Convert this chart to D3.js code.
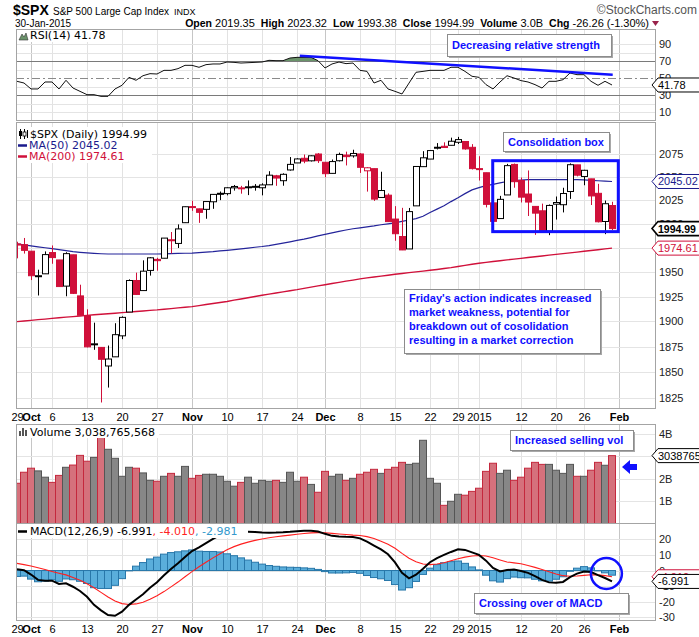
<!DOCTYPE html>
<html>
<head>
<meta charset="utf-8">
<script src="https://cdn.jsdelivr.net/npm/d3@7"></script>
<style>
body{margin:0;background:#fff;}
svg{display:block;font-family:"Liberation Sans",Arial,sans-serif;}
</style>
</head>
<body>
<div id="chart"></div>
<script>
// $SPX daily, 29-Sep-2014 .. 30-Jan-2015 (86 sessions)
const prevClose = 1982.85;
const opens = [1978.96,1978.21,1971.44,1945.83,1948.12,1970.01,1962.36,1935.55,1967.68,1925.63,
1905.65,1877.11,1874.18,1855.95,1864.91,1885.62,1909.38,1941.29,1931.02,1951.59,
1962.97,1964.14,1983.29,1979.49,2001.20,2018.21,2015.81,2015.29,2023.33,2032.36,
2032.01,2038.20,2037.75,2039.21,2039.74,2038.29,2041.48,2051.16,2045.87,2057.46,
2065.07,2070.15,2067.36,2074.78,2065.78,2053.77,2067.45,2073.64,2072.78,2074.84,
2056.55,2058.86,2027.92,2030.36,2005.03,1986.71,1973.77,2018.98,2061.04,2069.28,
2081.48,2083.25,2084.30,2087.63,2088.49,2082.11,2058.90,2054.44,2022.15,2005.55,
2030.61,2063.45,2046.13,2031.58,2018.40,2013.75,1992.25,2020.76,2020.19,2034.30,
2062.98,2050.42,2047.86,2032.34,2002.45,2019.35];
const highs = [1981.28,1985.17,1971.44,1952.32,1971.19,1977.37,1962.36,1970.36,1967.68,1936.98,
1912.09,1898.71,1874.18,1876.01,1898.16,1905.03,1942.45,1949.31,1961.95,1965.27,
1964.64,1985.05,1991.40,1999.40,2018.19,2024.46,2015.98,2023.77,2031.61,2034.26,
2038.70,2041.28,2040.33,2046.18,2042.22,2043.07,2056.08,2052.14,2053.84,2071.46,
2070.17,2074.21,2073.29,2075.76,2065.78,2068.77,2076.28,2077.34,2079.47,2075.78,
2060.60,2058.86,2055.53,2032.25,2018.69,2016.89,2016.75,2061.23,2077.85,2078.76,
2086.73,2087.56,2092.70,2093.55,2088.49,2085.58,2072.36,2054.44,2030.25,2029.61,
2064.08,2064.43,2049.30,2056.93,2018.40,2021.35,2020.46,2028.94,2038.29,2064.62,
2062.98,2057.62,2047.86,2042.49,2024.64,2023.32];
const lows = [1964.04,1968.96,1941.72,1926.03,1948.12,1958.43,1935.10,1925.25,1927.56,1906.05,
1874.14,1871.79,1820.66,1835.02,1864.91,1882.30,1909.38,1926.83,1931.02,1946.27,
1951.37,1964.14,1969.04,1974.75,2001.20,2013.68,2001.01,2005.36,2015.86,2025.07,
2030.17,2035.28,2031.95,2030.44,2035.20,2030.17,2041.48,2040.37,2040.49,2056.75,
2065.07,2064.75,2066.62,2065.06,2049.57,2053.77,2066.65,2062.34,2070.81,2054.27,
2034.17,2024.26,2027.92,2002.33,1982.26,1972.56,1973.77,2018.98,2061.04,2069.28,
2079.77,2081.86,2084.30,2085.75,2079.53,2057.94,2046.04,2017.34,1992.44,2005.55,
2030.61,2038.33,2022.58,2008.25,1988.44,1991.47,1988.12,2004.49,2012.04,2026.38,
2050.54,2040.97,2019.91,2001.49,1989.18,1993.38];
const closes = [1977.80,1972.29,1946.16,1946.17,1967.90,1964.82,1935.10,1968.89,1928.21,1906.13,
1874.74,1877.70,1862.49,1862.76,1886.76,1904.01,1941.28,1927.11,1950.82,1964.58,
1961.63,1985.05,1982.30,1994.65,2018.05,2017.81,2012.10,2023.57,2031.21,2031.92,
2038.26,2039.68,2038.25,2039.33,2039.82,2041.32,2051.80,2048.72,2052.75,2063.50,
2069.41,2067.03,2072.83,2067.56,2053.44,2066.55,2074.33,2071.92,2075.37,2060.31,
2059.82,2026.14,2035.33,2002.33,1989.63,1972.74,2012.89,2061.23,2070.65,2078.54,
2082.17,2081.88,2088.77,2090.57,2080.35,2058.90,2058.20,2020.58,2002.61,2025.90,
2062.14,2044.81,2028.26,2023.03,2011.27,1992.67,2019.42,2022.55,2032.12,2063.15,
2051.82,2057.09,2029.55,2002.16,2021.25,1994.99];
// volume in billions of shares
const volume = [1.81,2.30,2.48,2.36,2.08,1.85,2.16,2.52,2.62,3.05,
2.79,2.96,3.88,3.32,2.92,2.12,2.52,2.48,2.27,1.94,
1.90,2.12,2.25,2.12,2.56,2.03,2.16,2.21,2.21,2.12,
1.90,1.68,1.85,2.08,1.81,1.94,1.90,1.94,1.85,2.30,
1.90,2.08,1.76,1.41,2.34,2.12,2.21,1.94,2.03,2.21,
2.30,2.43,2.25,2.43,2.52,2.74,2.65,2.70,3.72,2.03,
1.81,0.83,1.01,1.32,1.28,1.45,1.59,2.34,2.70,2.25,
2.39,1.94,2.08,2.48,2.74,2.65,2.65,2.39,2.25,2.65,
2.12,2.12,2.39,2.74,2.61,3.0388];
const ma50 = [1979,1978,1977,1976,1975,1974,1973,1972,1971,1970.3,
1969.7,1969.2,1968.8,1968.5,1968.5,1968.5,1968.5,1968.5,1968.5,1968.5,
1968.5,1968.7,1968.9,1969.1,1969.3,1969.5,1970,1970.5,1971,1971.7,
1972.3,1973,1973.8,1974.6,1975.5,1976.3,1977.3,1978.5,1979.8,1981.2,
1982.6,1984,1985.6,1987.3,1989,1990.5,1992,1993.5,1994.8,1995.8,
1996.8,1997.8,1999,2000,2001,2002.5,2004,2005.5,2008,2012,
2015.5,2019,2023.5,2027.5,2032,2036,2038.5,2040.5,2042,2043.5,
2045,2046,2046.5,2047,2047,2047,2047,2047,2047,2047,
2047,2046.8,2046.3,2045.8,2045.4,2045.02];
const ma200 = [1899.8,1900.4,1901,1901.7,1902.3,1903,1903.6,1904.2,1904.8,1905.4,
1906,1906.6,1907.1,1907.7,1908.2,1908.8,1909.3,1909.9,1910.4,1911,
1911.5,1912.2,1912.8,1913.5,1914.1,1914.8,1915.8,1916.9,1917.9,1919,
1920,1921.3,1922.5,1923.8,1925,1926.3,1927.4,1928.6,1929.7,1930.9,
1932,1933.3,1934.5,1935.8,1937,1938.2,1939.4,1940.6,1941.7,1942.9,
1944,1944.9,1945.8,1946.7,1947.6,1948.5,1949.3,1950.1,1950.9,1951.7,
1952.6,1953.6,1954.5,1955.6,1956.8,1957.9,1959,1959.9,1960.7,1961.6,
1962.4,1963.2,1964,1964.9,1965.7,1966.5,1967.3,1968.1,1968.9,1969.7,
1970.5,1971.3,1972.1,1972.9,1973.8,1974.61];
const rsi = [46.1,44.1,37.1,37.1,45.3,45.3,37.1,47.3,38.2,34.3,
30.4,30.4,28.4,28.4,37.1,41.4,50.8,47.3,52.7,55.1,
54.7,59,59,61,64.9,64.9,62.6,65.7,66.5,66.5,
68.8,68.4,67.6,68,68.4,68.8,70.8,70.4,70.4,73.5,
74.3,74.3,74.3,70.4,61.8,66.5,68.8,66.9,67.6,59,
57.8,44.1,47.3,37.1,34.3,31.2,44,56.7,57.8,59,
59,59,62.6,62.6,57.8,52,50.8,42.2,37.1,45.3,
52.7,50,46.9,45.3,42.2,38.2,46.1,46.1,48,55.9,
53.9,53.9,46.1,41.4,46.1,41.78];
const macd = [0.8,0.2,-2.6,-6,-6.5,-6.5,-8.6,-8.2,-10.4,-13.1,
-16.8,-22,-25.5,-28.5,-29,-26.4,-22,-18.6,-15.2,-11,
-7.5,-3,1,4.6,8.6,12.5,14.8,17.5,20.3,22.7,
24,24.8,25,24.9,24.6,24.3,24.2,24.3,24.5,24.8,
25.2,25.4,25.5,25,23.5,22.2,21.8,21.6,21.5,20.6,
18.5,16,13.5,10.4,5.2,-1.5,-5,-2.7,1.2,5.3,
8,10,11.9,13.6,13.2,11.6,10,6.3,1.6,-0.6,
0.3,0.7,-0.3,-1.5,-3.6,-6,-7.6,-7.8,-7.3,-4.2,
-2,-0.6,-1,-3,-4.8,-6.991];
const signal = [4.6,3.8,2.9,1.8,0.6,-0.6,-1.7,-2.8,-4.5,-6.2,
-8.5,-11,-14,-17,-19.5,-21.2,-21.8,-21.4,-20.3,-18.4,
-16.1,-13.5,-10.5,-7.4,-4,-0.7,2.4,5.3,8.1,10.8,
13.3,15.3,16.9,18.2,19.3,20.2,21,21.6,22.2,22.7,
23.2,23.7,24.1,24.3,24.2,23.8,23.4,23.1,22.7,22.4,
21.7,20.5,18.8,16.8,14.3,11,7.9,5.6,4.2,3.8,
4.2,5,6.2,7.5,8.6,9.3,9.6,9.3,8.2,6.8,
5.5,4.9,4.3,3.2,2,0.6,-0.8,-2.2,-3.3,-3.7,
-3.5,-3.1,-2.7,-2.8,-3.3,-4.01];
const hist = [-3.8,-3.6,-5.5,-7.2,-6.8,-5.9,-6.9,-5.4,-5.9,-6.9,
-8.3,-11,-11.5,-11.5,-9.5,-5.2,-0.2,2.8,5.1,7.4,
8.6,10.5,11.5,12,12.6,13.2,12.4,12.2,12.2,11.9,
10.7,9.5,8.1,6.7,5.3,4.1,3.2,2.7,2.3,2.1,
2,1.7,1.4,0.7,-0.7,-1.6,-1.6,-1.5,-1.2,-1.8,
-3.2,-4.5,-5.3,-6.4,-9,-12.5,-11,-7,-2.5,1.5,
3.8,5,5.7,6.1,4.6,2.3,0.4,-3,-6.6,-7.4,
-5.2,-4.2,-4.6,-4.7,-5.6,-6.6,-6.8,-5.6,-4,-0.5,
1.5,2.5,1.7,-0.2,-1.5,-2.981];

// date axis
const tickIdx = [0,2,5,10,15,20,25,30,35,40,44,49,54,59,63,66,72,77,81,86];
const tickLbl = ["29","Oct","6","13","20","27","Nov","10","17","24","Dec","8","15","22","29","2015","12","20","26","Feb"];
const priceTicks = [1825,1850,1875,1900,1925,1950,1975,2000,2025,2050,2075];
const rsiTicks = [90,70,50,30,10];
const rsiGrid = [10,20,40,60,80,90];
const volTicks = [1,2,3,4];
const macdTicks = [20,10,0,-10,-20,-30];

const W = 699, H = 637;
const L = 16, R = 655;
const RED = "#d0103a", BLUE = "#1010ff";

var svg = d3.select("#chart").append("svg")
    .attr("width", W)
    .attr("height", H);

var x = d3.scaleLinear().domain([0, 85]).range([17, 612]);
var yP = d3.scaleLog().domain([1815.4, 2110]).range([408, 122]);
var yR = d3.scaleLinear().domain([0, 100]).range([120.5, 35.5]);
var yV = d3.scaleLinear().domain([0, 4.444]).range([524, 424]);
var yM = d3.scaleLinear().domain([-31.7, 29.8]).range([620, 524]);

var panels = {
    rsi: [29, 120],
    price: [122, 408],
    vol: [424, 523],
    macd: [523, 620]
};

var defs = svg.append("defs");
Object.keys(panels).forEach(function(k){
    defs.append("clipPath").attr("id", "clip-" + k)
        .append("rect").attr("x", L).attr("y", panels[k][0])
        .attr("width", R - L).attr("height", panels[k][1] - panels[k][0]);
});
defs.append("clipPath").attr("id", "clip-ob")
    .append("rect").attr("x", L).attr("y", 29).attr("width", R - L).attr("height", yR(70) - 29);

// gridlines
function vgrid(top, bottom){
    tickIdx.forEach(function(t, k){
        if (t === 0) return;
        var month = isNaN(+tickLbl[k]);
        svg.append("line")
            .attr("x1", Math.round(x(t)) + 0.5).attr("x2", Math.round(x(t)) + 0.5)
            .attr("y1", top).attr("y2", bottom)
            .attr("stroke", month ? "#c6c6c6" : "#e2e2e2");
    });
}
function hgrid(vals, scale){
    vals.forEach(function(v){
        var yy = Math.round(scale(v)) + 0.5;
        svg.append("line").attr("x1", L).attr("x2", R).attr("y1", yy).attr("y2", yy)
            .attr("stroke", "#e4e4e4");
    });
}
Object.keys(panels).forEach(function(k){ vgrid(panels[k][0], panels[k][1]); });
hgrid(rsiGrid, yR);
hgrid(priceTicks, yP);
hgrid(volTicks, yV);
hgrid(macdTicks, yM);

// ---- RSI panel
var gR = svg.append("g").attr("clip-path", "url(#clip-rsi)");
[70, 30].forEach(function(v){
    gR.append("line").attr("x1", L).attr("x2", R)
        .attr("y1", Math.round(yR(v)) + 0.5).attr("y2", Math.round(yR(v)) + 0.5)
        .attr("stroke", "#7a7a7a");
});
gR.append("line").attr("x1", L).attr("x2", R)
    .attr("y1", Math.round(yR(50)) + 0.5).attr("y2", Math.round(yR(50)) + 0.5)
    .attr("stroke", "#8a8a8a").attr("stroke-dasharray", "8,3,2,3");
gR.append("path").datum(rsi)
    .attr("clip-path", "url(#clip-ob)")
    .attr("d", d3.area().x(function(d, i){ return x(i); }).y0(yR(70)).y1(function(d){ return yR(d); }))
    .attr("fill", "#6a936a");
gR.append("path").datum(rsi)
    .attr("d", d3.line().x(function(d, i){ return x(i); }).y(function(d){ return yR(d); }))
    .attr("fill", "none").attr("stroke", "#111").attr("stroke-width", 1);
// falling RSI trendline
const rsiTrend = [[40.4, 76.2], [85.1, 53.9]];
gR.append("line")
    .attr("x1", x(rsiTrend[0][0])).attr("y1", yR(rsiTrend[0][1]))
    .attr("x2", x(rsiTrend[1][0])).attr("y2", yR(rsiTrend[1][1]))
    .attr("stroke", BLUE).attr("stroke-width", 2.5);

// ---- price panel
var gP = svg.append("g").attr("clip-path", "url(#clip-price)");
gP.append("path").datum(ma200)
    .attr("d", d3.line().x(function(d, i){ return x(i); }).y(function(d){ return yP(d); }))
    .attr("fill", "none").attr("stroke", RED).attr("stroke-width", 1.4);
gP.append("path").datum(ma50)
    .attr("d", d3.line().x(function(d, i){ return x(i); }).y(function(d){ return yP(d); }))
    .attr("fill", "none").attr("stroke", "#24249a").attr("stroke-width", 1.2);

closes.forEach(function(c, i){
    var o = opens[i];
    var pc = i ? closes[i - 1] : prevClose;
    var col = c < pc ? RED : "#000";
    var cx = Math.round(x(i));
    gP.append("line")
        .attr("x1", cx + 0.5).attr("x2", cx + 0.5)
        .attr("y1", yP(highs[i])).attr("y2", yP(lows[i]))
        .attr("stroke", col);
    var top = yP(Math.max(o, c)), bot = yP(Math.min(o, c));
    gP.append("rect")
        .attr("x", cx - 2.5).attr("width", 6)
        .attr("y", top).attr("height", Math.max(1, bot - top))
        .attr("fill", c >= o ? "#fff" : col)
        .attr("stroke", col).attr("stroke-width", 1);
});

// consolidation box
const consol = {from: 67.96, to: 85.9, hi: 2067.5, lo: 1991.8};
gP.append("rect")
    .attr("x", x(consol.from)).attr("y", yP(consol.hi))
    .attr("width", x(consol.to) - x(consol.from))
    .attr("height", yP(consol.lo) - yP(consol.hi))
    .attr("fill", "none").attr("stroke", BLUE).attr("stroke-width", 3);

// ---- volume panel
var gV = svg.append("g").attr("clip-path", "url(#clip-vol)");
volume.forEach(function(v, i){
    var pc = i ? closes[i - 1] : prevClose;
    var down = closes[i] < pc;
    gV.append("rect")
        .attr("x", Math.round(x(i)) - 3.5).attr("width", 7)
        .attr("y", yV(v)).attr("height", yV(0) - yV(v))
        .attr("fill", down ? "#d5717c" : "#878787")
        .attr("stroke", down ? "#c4283d" : "#555").attr("stroke-width", 1);
});

// ---- MACD panel
var gM = svg.append("g").attr("clip-path", "url(#clip-macd)");
hist.forEach(function(h, i){
    gM.append("rect")
        .attr("x", Math.round(x(i)) - 3.5).attr("width", 7)
        .attr("y", Math.min(yM(0), yM(h))).attr("height", Math.abs(yM(h) - yM(0)))
        .attr("fill", "#5aaedb").attr("stroke", "#2877a9").attr("stroke-width", 1);
});
gM.append("path").datum(signal)
    .attr("d", d3.line().x(function(d, i){ return x(i); }).y(function(d){ return yM(d); }))
    .attr("fill", "none").attr("stroke", "#ff1f1f").attr("stroke-width", 1.1);
gM.append("path").datum(macd)
    .attr("d", d3.line().x(function(d, i){ return x(i); }).y(function(d){ return yM(d); }))
    .attr("fill", "none").attr("stroke", "#000").attr("stroke-width", 2);

// frames
Object.keys(panels).forEach(function(k){
    svg.append("rect").attr("x", L + 0.5).attr("y", panels[k][0] + 0.5)
        .attr("width", R - L).attr("height", panels[k][1] - panels[k][0])
        .attr("fill", "none").attr("stroke", "#a4a4a4");
});

// right axis labels
function axisLabels(vals, scale, fmt){
    vals.forEach(function(v){
        svg.append("text").attr("x", 659).attr("y", scale(v) + 4)
            .attr("font-size", 11).attr("fill", "#222").text(fmt ? fmt(v) : v);
    });
}
axisLabels(rsiTicks, yR);
axisLabels(priceTicks, yP);
axisLabels(volTicks, yV, function(v){ return v + "B"; });
axisLabels(macdTicks, yM);

// date labels under the price panel and at the bottom
[421, 633].forEach(function(yy){
    tickIdx.forEach(function(t, k){
        var month = isNaN(+tickLbl[k]);
        svg.append("text").attr("x", x(t) + 0.5).attr("y", yy)
            .attr("text-anchor", "middle").attr("font-size", 11)
            .attr("font-weight", month ? "bold" : "normal")
            .text(tickLbl[k]);
    });
});

// value tags on the right edge
function tag(y, label, col, bold){
    svg.append("path")
        .attr("d", "M652," + y + "L658," + (y - 7) + "L701," + (y - 7) + "L701," + (y + 7) + "L658," + (y + 7) + "Z")
        .attr("fill", "#fff").attr("stroke", col).attr("stroke-width", bold ? 1.6 : 1);
    svg.append("text").attr("x", 658).attr("y", y + 4)
        .attr("font-size", bold ? 10.5 : 11).attr("fill", col)
        .attr("font-weight", bold ? "bold" : "normal").text(label);
}
tag(yR(41.78), "41.78", "#000");
tag(yP(2045.02), "2045.02", "#1a1a8c");
tag(yP(1974.61), "1974.61", RED);
tag(yP(1994.99), "1994.99", "#000", true);
tag(yV(3.0388), "3038765", "#000");
tag(yM(-4.01), "-4.010", RED);
tag(yM(-6.991), "-6.991", "#000");

// legends
var legendFont = "'DejaVu Sans', Verdana, sans-serif";
function legendBg(x0, y0, w, h){
    svg.append("rect").attr("x", x0).attr("y", y0).attr("width", w).attr("height", h).attr("fill", "#fff");
}
legendBg(17, 30, 92, 12);
svg.append("path").attr("d", "M19,40 L22,34 L24,37 L26,33 L28,40 Z").attr("fill", "#6a936a").attr("stroke", "#333").attr("stroke-width", 0.6);
svg.append("text").attr("x", 30).attr("y", 39).attr("font-family", legendFont).attr("font-size", 11).text("RSI(14) 41.78");

legendBg(17, 127, 135, 36);
svg.append("path").attr("d", "M20.5,129V139 M24.5,129V139 M27.5,130V138").attr("stroke", "#000").attr("stroke-width", 1);
svg.append("rect").attr("x", 19).attr("y", 131).attr("width", 3).attr("height", 5).attr("fill", "#000");
svg.append("rect").attr("x", 23).attr("y", 132).attr("width", 3).attr("height", 4).attr("fill", "#fff").attr("stroke", "#000").attr("stroke-width", 0.8);
svg.append("text").attr("x", 30).attr("y", 138).attr("font-family", legendFont).attr("font-size", 11).text("$SPX (Daily) 1994.99");
svg.append("line").attr("x1", 18).attr("x2", 27).attr("y1", 145.5).attr("y2", 145.5).attr("stroke", "#1a1a8c").attr("stroke-width", 2.5);
svg.append("text").attr("x", 29).attr("y", 149).attr("font-family", legendFont).attr("font-size", 11).attr("fill", "#1a1a8c").text("MA(50) 2045.02");
svg.append("line").attr("x1", 18).attr("x2", 27).attr("y1", 156.5).attr("y2", 156.5).attr("stroke", RED).attr("stroke-width", 2.5);
svg.append("text").attr("x", 29).attr("y", 160).attr("font-family", legendFont).attr("font-size", 11).attr("fill", RED).text("MA(200) 1974.61");

legendBg(17, 425, 142, 13);
[[19, 431], [22, 428], [25, 430]].forEach(function(b){
    svg.append("rect").attr("x", b[0]).attr("y", b[1]).attr("width", 2).attr("height", 436 - b[1]).attr("fill", "#555");
});
svg.append("text").attr("x", 30).attr("y", 436).attr("font-family", legendFont).attr("font-size", 11).text("Volume 3,038,765,568");

legendBg(17, 524, 231, 14);
svg.append("line").attr("x1", 18).attr("x2", 27).attr("y1", 531.5).attr("y2", 531.5).attr("stroke", "#000").attr("stroke-width", 2.5);
var mt = svg.append("text").attr("x", 30).attr("y", 535).attr("font-family", legendFont).attr("font-size", 11);
mt.append("tspan").attr("fill", "#000").text("MACD(12,26,9) -6.991");
mt.append("tspan").attr("fill", "#ff1f1f").text(", -4.010");
mt.append("tspan").attr("fill", "#3399cc").text(", -2.981");

// header
svg.append("text").attr("x", 13).attr("y", 15).attr("font-size", 14).attr("font-weight", "bold").text("$SPX");
svg.append("text").attr("x", 53).attr("y", 15).attr("font-size", 10).text("S&P 500 Large Cap Index");
svg.append("text").attr("x", 174).attr("y", 15).attr("font-size", 9).text("INDX");
svg.append("text").attr("x", 697).attr("y", 14).attr("text-anchor", "end").attr("font-size", 12).attr("fill", "#555").text("\u00A9StockCharts.com");
svg.append("text").attr("x", 15).attr("y", 27).attr("font-size", 10).text("30-Jan-2015");
const quote = [["Open", "2019.35"], ["High", "2023.32"], ["Low", "1993.38"], ["Close", "1994.99"], ["Volume", "3.0B"], ["Chg", "-26.26 (-1.30%)"]];
var q = svg.append("text").attr("x", 649).attr("y", 27).attr("text-anchor", "end");
quote.forEach(function(p, k){
    q.append("tspan").attr("font-weight", "bold").attr("font-size", 10.5).attr("dx", k ? 6 : 0).text(p[0]);
    q.append("tspan").attr("font-size", 11).text(" " + p[1]);
});
svg.append("path").attr("d", "M652,21 L659,21 L655.5,26 Z").attr("fill", "#99224a");

// annotations
const notes = [
    {x: 447, y: 34, w: 164, h: 22, lines: ["Decreasing relative strength"]},
    {x: 503, y: 132, w: 106, h: 19, lines: ["Consolidation box"]},
    {x: 404, y: 289, w: 196, h: 64, lines: ["Friday's action indicates increased", "market weakness, potential for", "breakdown out of cosolidation", "resulting in a market correction"]},
    {x: 510, y: 430, w: 123, h: 20, lines: ["Increased selling vol"]},
    {x: 474, y: 593, w: 154, h: 20, lines: ["Crossing over of MACD"]}
];
notes.forEach(function(n){
    svg.append("rect").attr("x", n.x + 2).attr("y", n.y + 2).attr("width", n.w).attr("height", n.h).attr("fill", "#a8a8a8");
    svg.append("rect").attr("x", n.x + 0.5).attr("y", n.y + 0.5).attr("width", n.w).attr("height", n.h)
        .attr("fill", "#fff").attr("stroke", "#8c8c8c");
    n.lines.forEach(function(t, k){
        svg.append("text").attr("x", n.x + 5).attr("y", n.y + (n.lines.length > 1 ? 13 : n.h / 2 + 4) + k * 14)
            .attr("font-size", 11).attr("font-weight", "bold").attr("fill", BLUE).text(t);
    });
});

// arrow at latest volume bar, circle around MACD cross
svg.append("path")
    .attr("d", "M622,467 L630,460 L630,464 L637,464 L637,470 L630,470 L630,474 Z")
    .attr("fill", BLUE);
svg.append("circle").attr("cx", x(84.2)).attr("cy", yM(-1.9)).attr("r", 15.5)
    .attr("fill", "none").attr("stroke", BLUE).attr("stroke-width", 2.5);
</script>
</body>
</html>
